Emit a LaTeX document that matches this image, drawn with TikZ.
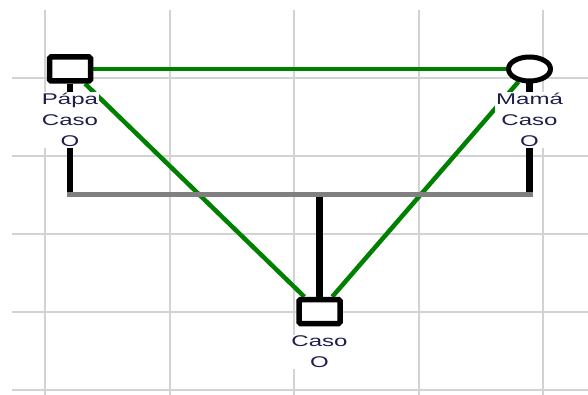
\documentclass[tikz,border=0pt]{standalone}
\usepackage{fontspec}
\newfontfamily\lblfont[FakeStretch=1.55]{Liberation Sans}
\definecolor{relgreen}{RGB}{0,128,0}
\definecolor{gridgray}{RGB}{210,210,210}
\definecolor{sibgray}{RGB}{128,128,128}
\definecolor{lbltext}{RGB}{30,30,75}
\usetikzlibrary{positioning,backgrounds,shapes.geometric}
\tikzset{
  male/.style={draw=black, fill=white, line width=5.5pt, rectangle, rounded corners=1.5pt,
              minimum width=41pt, minimum height=24pt, inner sep=0pt},
  female/.style={draw=black, fill=white, line width=5pt, ellipse,
              minimum width=42pt, minimum height=24pt, inner sep=0pt},
  lbl/.style={fill=white, inner sep=1pt, text=lbltext, align=center,
              font=\lblfont\fontsize{15.5}{21}\selectfont},
  gridline/.style={draw=gridgray, line width=2pt},
  rel/.style={draw=relgreen, line width=4.5pt},
  desc/.style={draw=black, line width=6.5pt},
  sib/.style={draw=sibgray, line width=4.5pt},
}

\begin{document}
\begin{tikzpicture}[x=1pt, y=-1pt]
        \useasboundingbox (0,0) rectangle (588,395);
        \begin{scope}[on background layer]
          \foreach \gx in {45,170,294,419,543}
            \draw[gridline] (\gx,10) -- (\gx,395);
          \foreach \gy in {78,156,234,312,390}
            \draw[gridline] (12,\gy) -- (588,\gy);
        \end{scope}
        \node[male] (pa) at (70,69) {};
        \node[female] (ma) at (529.5,69) {};
        \node[male] (ca) at (319.5,311.5) {};
        \coordinate (sibmid) at (319.5,194.5);
        \node[lbl, below=8.5pt of pa] (palbl) {Pápa\\Caso\\O};
        \node[lbl, below=8.5pt of ma] (malbl) {Mamá\\Caso\\O};
        \node[lbl, below=8.5pt of ca] (calbl) {Caso\\O};
        \begin{scope}[on background layer]
          \draw[rel] (pa) -- (ma);
          \draw[rel] (pa) -- (ca);
          \draw[rel] (ma) -- (ca);
          \draw[desc] (pa) -- (pa |- sibmid);
          \draw[desc] (ma) -- (ma |- sibmid);
          \draw[desc] (sibmid) -- (ca);
          \draw[sib, shorten <=-3pt, shorten >=-3pt] (pa |- sibmid) -- (ma |- sibmid);
        \end{scope}
      \end{tikzpicture}
\end{document}
